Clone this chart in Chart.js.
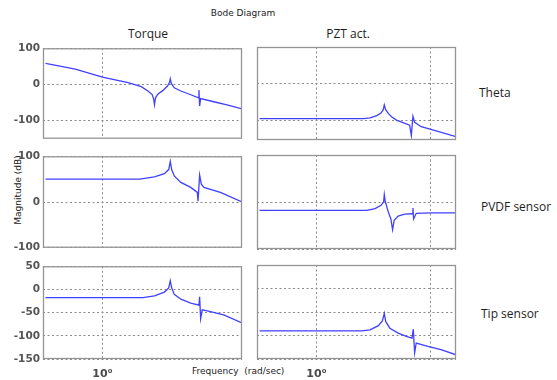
<!DOCTYPE html>
<html>
<head>
<meta charset="utf-8">
<script src="https://cdn.jsdelivr.net/npm/chart.js@4.4.1/dist/chart.umd.min.js"></script>
<style>
  html, body { margin: 0; padding: 0; background: #fff; }
  #wrap { position: relative; width: 557px; height: 380px; overflow: hidden; background: #fff; }
  #wrap canvas { position: absolute; }
  .txt { position: absolute; white-space: nowrap; color: #1e1e1e; }
  .c { transform: translate(-50%, -50%); }
  .l { transform: translateY(-50%); }
  .small { font: 9px "DejaVu Sans", sans-serif; color: #222; }
  .head { font: 12px "Open Sans", sans-serif; }
</style>
</head>
<body>
<div id="wrap">
  <div class="txt c small" style="left:243px; top:13px;">Bode Diagram</div>
  <div class="txt c head" style="left:148px; top:33px;">Torque</div>
  <div class="txt c head" style="left:348px; top:33px;">PZT act.</div>
  <div class="txt l head" style="left:479px; top:92px;">Theta</div>
  <div class="txt l head" style="left:481px; top:206px;">PVDF sensor</div>
  <div class="txt l head" style="left:481px; top:313px;">Tip sensor</div>
  <div class="txt c small" style="left:18px; top:190px; transform: translate(-50%, -50%) rotate(-90deg);">Magnitude (dB)</div>
  <div class="txt l small" style="left:192px; top:371px;">Frequency&nbsp;&nbsp;(rad/sec)</div>
</div>
<script>
// frequency axis (rad/sec) and magnitudes (dB)
const thetaTorqueFreq = [0.316, 0.578, 1, 1.682, 2.198, 2.512, 2.74, 2.83, 2.87, 2.93, 3.07, 3.39, 3.75, 3.90, 3.954, 4.036, 4.285, 4.898, 5.984, 7.015, 7.063, 7.161, 7.311, 9.55, 12.47, 16.9];
const thetaTorqueMag  = [58, 42, 19.5, 4.5, -7, -19, -29, -43, -57, -38, -28, -18, -4.5, 6, 15, 2, -10, -19, -29.5, -38, -16, -61, -40, -49, -58, -69];

const thetaPztFreq = [0.316, 2.594, 2.965, 3.39, 3.698, 3.873, 3.954, 4.064, 4.285, 4.581, 5.058, 5.781, 6.607, 6.839, 7.063, 7.311, 8.356, 10.91, 16.9];
const thetaPztMag  = [-94, -94, -92, -86, -79, -70, -57, -70, -80, -89, -98, -105, -112, -140, -88, -104, -116, -126, -143];

const pvdfTorqueFreq = [0.316, 2.128, 2.871, 3.508, 3.828, 3.954, 4.064, 4.285, 4.898, 5.984, 6.839, 6.934, 7.161, 7.413, 7.816, 10.91, 16.9];
const pvdfTorqueMag  = [50, 50, 55, 62, 71, 89, 71, 57, 43, 32, 21, 2, 59, 39, 32, 21, 0];

const pvdfPztFreq = [0.316, 2.773, 3.281, 3.698, 3.899, 3.954, 4.036, 4.285, 4.519, 4.677, 4.831, 5.236, 5.984, 6.966, 7.063, 7.161, 7.551, 10.21, 16.9];
const pvdfPztMag  = [-18, -18, -14, -7, 0, 16, 1, -21, -36, -59, -39, -30, -26, -25, -13, -36, -24, -23, -23];

const tipTorqueFreq = [0.316, 2.275, 2.871, 3.508, 3.828, 3.954, 4.064, 4.285, 4.898, 5.984, 7.063, 7.161, 7.311, 7.551, 8.356, 11.67, 16.9];
const tipTorqueMag  = [-17.6, -17.6, -14, -5.6, 3.5, 19, 3.5, -10.6, -21, -29.6, -34, -16, -63, -44, -46, -55, -72];

const tipPztFreq = [0.316, 2.512, 2.965, 3.508, 3.802, 3.954, 4.064, 4.426, 5.236, 6.18, 6.934, 7.112, 7.311, 7.551, 9.55, 12.47, 16.9];
const tipPztMag  = [-90, -90, -88, -79, -69, -53, -70, -84.5, -95, -102, -105.6, -86.6, -137, -116, -123, -130, -141];

// y axis ranges and tick values per row
const rowRanges = [[-152, 100], [-100, 100], [-150, 50]];
const rowTicks = [[-100, 0, 100], [-100, 0, 100], [-150, -100, -50, 0, 50]];
const freqMin = 0.316, freqMax = 16.9;
const leftGrid = [1];
const rightGrid = [1, 10];

const panels = [
  { freq: thetaTorqueFreq, mag: thetaTorqueMag, row: 0, col: 0 },
  { freq: thetaPztFreq,    mag: thetaPztMag,    row: 0, col: 1 },
  { freq: pvdfTorqueFreq,  mag: pvdfTorqueMag,  row: 1, col: 0 },
  { freq: pvdfPztFreq,     mag: pvdfPztMag,     row: 1, col: 1 },
  { freq: tipTorqueFreq,   mag: tipTorqueMag,   row: 2, col: 0 },
  { freq: tipPztFreq,      mag: tipPztMag,      row: 2, col: 1 }
];

const colLeft = [43, 257];
const rowTop = [47, 155, 265];
const rowH = [93, 94, 94];
const panelW = 199;
const yAxisW = 40, pad = 8, xAxisH = 24;

// frame round each plot area
const framePlugin = {
  id: 'frame',
  afterDraw(chart) {
    const a = chart.chartArea, ctx = chart.ctx;
    ctx.save();
    ctx.strokeStyle = '#949494';
    ctx.lineWidth = 1.3;
    ctx.strokeRect(a.left + 0.5, a.top + 0.5, a.right - a.left - 1, a.bottom - a.top - 1);
    ctx.restore();
  }
};

const wrap = document.getElementById('wrap');

panels.forEach(p => {
  const bottomRow = p.row === 2;
  const xh = bottomRow ? xAxisH : 0;
  const cw = yAxisW + panelW + pad;
  const chh = pad + rowH[p.row] + xh + pad;
  const canvas = document.createElement('canvas');
  canvas.width = cw;
  canvas.height = chh;
  canvas.style.width = cw + 'px';
  canvas.style.height = chh + 'px';
  canvas.style.left = (colLeft[p.col] - yAxisW) + 'px';
  canvas.style.top = (rowTop[p.row] - pad) + 'px';
  wrap.appendChild(canvas);

  const points = p.freq.map((f, i) => ({ x: f, y: p.mag[i] }));
  const [ymin, ymax] = rowRanges[p.row];
  const yticks = rowTicks[p.row];
  const xgrid = p.col === 0 ? leftGrid : rightGrid;

  new Chart(canvas.getContext('2d'), {
    type: 'line',
    data: {
      datasets: [{
        data: points,
        borderColor: '#4040ff',
        borderWidth: 1.3,
        pointRadius: 0,
        tension: 0,
        fill: false
      }]
    },
    options: {
      responsive: false,
      animation: false,
      devicePixelRatio: 1,
      layout: { padding: { left: 0, right: pad, top: pad, bottom: pad } },
      plugins: { legend: { display: false }, tooltip: { enabled: false } },
      scales: {
        x: {
          type: 'logarithmic',
          min: freqMin,
          max: freqMax,
          afterBuildTicks: s => { s.ticks = xgrid.map(v => ({ value: v })); },
          afterFit: s => { s.height = xh; },
          grid: { color: '#8a8a8a', lineWidth: 1, drawTicks: false },
          border: { display: false, dash: [2, 2.5] },
          ticks: {
            display: bottomRow,
            autoSkip: false,
            maxRotation: 0,
            padding: 9,
            color: '#4a4a4a',
            font: { family: 'DejaVu Sans', size: 11, weight: 'bold' },
            callback: v => (v === 1 ? '10\u2070' : '')
          }
        },
        y: {
          type: 'linear',
          min: ymin,
          max: ymax,
          afterBuildTicks: s => { s.ticks = yticks.map(v => ({ value: v })); },
          afterFit: s => { s.width = yAxisW; },
          grid: { color: '#8a8a8a', lineWidth: 1, drawTicks: false },
          border: { display: false, dash: [2, 2.5] },
          ticks: {
            display: p.col === 0,
            padding: 3,
            color: '#555',
            font: { family: 'DejaVu Sans', size: 10.5, weight: 'bold' },
            callback: v => String(v)
          }
        }
      }
    },
    plugins: [framePlugin]
  });
});
</script>
</body>
</html>
